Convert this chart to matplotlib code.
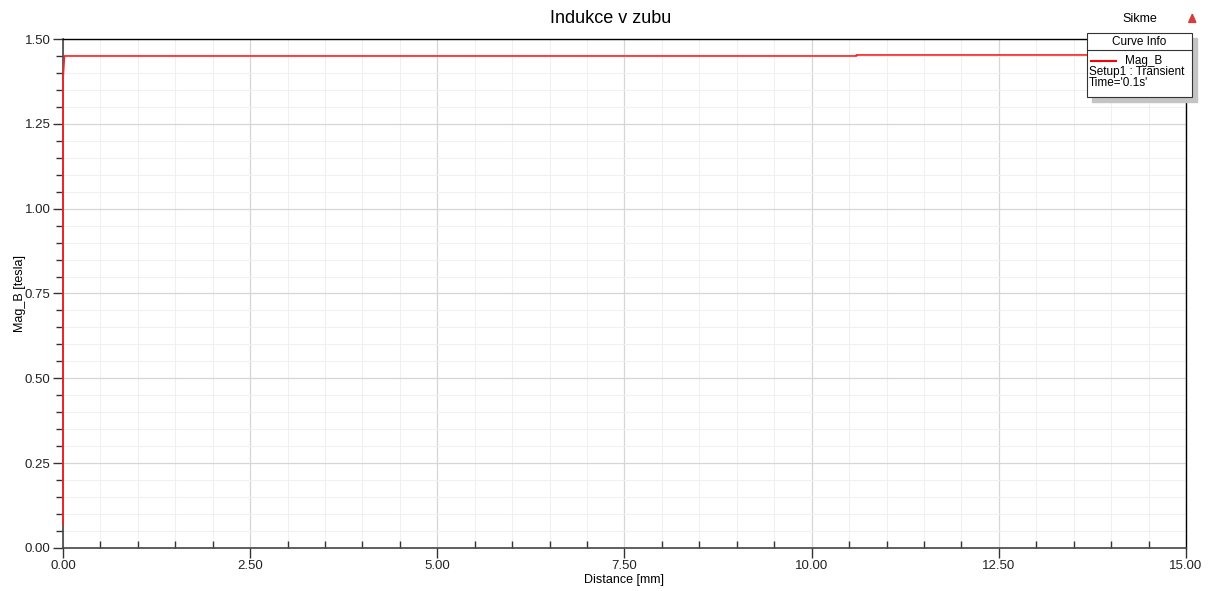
import matplotlib.pyplot as plt
from matplotlib.patches import Rectangle, Polygon
from matplotlib.lines import Line2D
from matplotlib.ticker import MultipleLocator, FormatStrFormatter

plt.rcParams['font.family'] = ['Liberation Sans', 'DejaVu Sans']

# Mag_B along the tooth
distance = [0.0, 0.0, 0.02, 10.6, 10.6, 15.0]
mag_b = [0.07, 1.38, 1.450, 1.450, 1.453, 1.453]

title = "Indukce v zubu"
design = "Sikme"
curve_name = "Mag_B"
curve_info = ["Setup1 : Transient", "Time='0.1s'"]

fig = plt.figure(figsize=(12.16, 5.91), dpi=100)
ax = fig.add_axes([0.0518, 0.0728, 0.9235, 0.8612])

ax.plot(distance, mag_b, color='#ff2020', lw=1.2, clip_on=False, zorder=3)

ax.set_xlim(0, 15)
ax.set_ylim(0, 1.5)
ax.xaxis.set_major_locator(MultipleLocator(2.5))
ax.xaxis.set_minor_locator(MultipleLocator(0.5))
ax.yaxis.set_major_locator(MultipleLocator(0.25))
ax.yaxis.set_minor_locator(MultipleLocator(0.05))
ax.xaxis.set_major_formatter(FormatStrFormatter('%.2f'))
ax.yaxis.set_major_formatter(FormatStrFormatter('%.2f'))

ax.grid(which='major', color='#d6d6d6', lw=0.9)
ax.grid(which='minor', color='#f0f0f0', lw=0.8)
ax.set_axisbelow(True)

ax.tick_params(which='major', direction='out', length=7, width=1, color='#333333',
               labelsize=9.5, labelcolor='#222222', pad=2)
ax.tick_params(axis='x', which='minor', direction='in', length=5, width=1, color='#333333')
ax.tick_params(axis='y', which='minor', direction='out', length=5, width=1, color='#333333')

for side in ['left', 'bottom']:
    ax.spines[side].set_color('#444444')
    ax.spines[side].set_linewidth(1.2)
for side in ['top', 'right']:
    ax.spines[side].set_color('#000000')
    ax.spines[side].set_linewidth(1.0)

ax.set_xlabel("Distance [mm]", fontsize=9, labelpad=1)
ax.set_ylabel("Mag_B [tesla]", fontsize=9, labelpad=-1)

fig.text(0.502, 0.968, title, ha='center', va='center', fontsize=13)
fig.text(0.937, 0.968, design, ha='center', va='center', fontsize=9)
fig.patches.append(Polygon([[0.9775, 0.962], [0.9835, 0.962], [0.9805, 0.976]],
                           closed=True, transform=fig.transFigure, color='#d04040'))

# Curve Info box
W, H = 1216.0, 591.0
bx0, by0, bx1, by1 = 1087, 33, 1192, 97
def fx(px):
    return px / W
def fy(py):
    return 1 - py / H

fig.patches.append(Rectangle((fx(bx0 + 5), fy(by1 + 5)), fx(bx1 - bx0), (by1 - by0) / H,
                             transform=fig.transFigure, color='#c4c4c4', zorder=5))
fig.patches.append(Rectangle((fx(bx0), fy(by1)), fx(bx1 - bx0), (by1 - by0) / H,
                             transform=fig.transFigure, facecolor='white',
                             edgecolor='#333333', lw=0.8, zorder=6))
fig.lines.append(Line2D([fx(bx0), fx(bx1)], [fy(50), fy(50)], transform=fig.transFigure,
                        color='#333333', lw=0.8, zorder=7))
fig.text(fx(1139), fy(42), "Curve Info", ha='center', va='center', fontsize=8.5, zorder=8)
fig.lines.append(Line2D([fx(1091), fx(1116)], [fy(61), fy(61)], transform=fig.transFigure,
                        color='#ff0000', lw=1.5, zorder=7))
fig.text(fx(1125), fy(61), curve_name, ha='left', va='center', fontsize=8.5, zorder=8)
fig.text(fx(1089), fy(72), curve_info[0], ha='left', va='center', fontsize=8.5, zorder=8)
fig.text(fx(1089), fy(83), curve_info[1], ha='left', va='center', fontsize=8.5, zorder=8)

fig.savefig("out.png", dpi=100)
